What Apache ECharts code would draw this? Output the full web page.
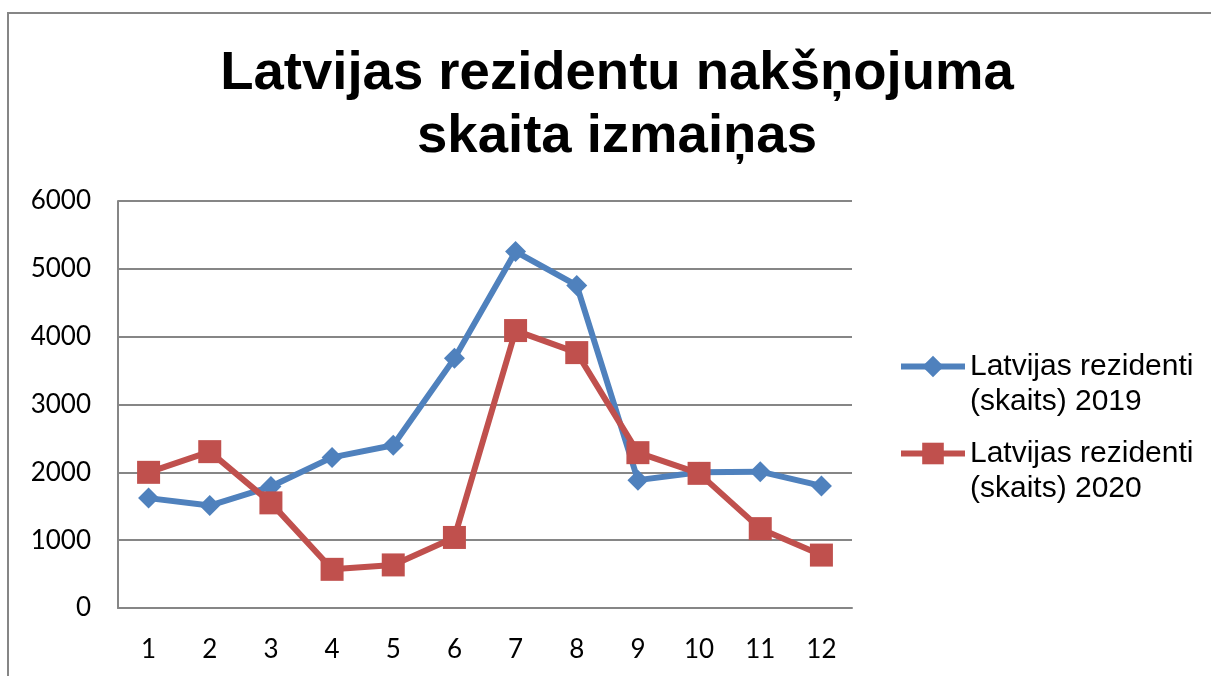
<!DOCTYPE html>
<html>
<head>
<meta charset="utf-8">
<script src="https://cdn.jsdelivr.net/npm/echarts@6/dist/echarts.min.js"></script>
<style>
  html, body { margin: 0; padding: 0; background: #fff; }
  #main { width: 1211px; height: 676px; }
</style>
</head>
<body>
<div id="main"></div>
<script>
// months
const categories = ['1', '2', '3', '4', '5', '6', '7', '8', '9', '10', '11', '12'];
const values2019 = [1620, 1510, 1790, 2220, 2400, 3680, 5255, 4755, 1885, 2000, 2010, 1800];
const values2020 = [2000, 2305, 1550, 570, 635, 1040, 4090, 3765, 2290, 1985, 1170, 780];
const yTicks = [0, 1000, 2000, 3000, 4000, 5000, 6000];

const name2019 = 'Latvijas rezidenti\n(skaits) 2019';
const name2020 = 'Latvijas rezidenti\n(skaits) 2020';

var chartDom = document.getElementById('main');
var myChart = echarts.init(chartDom, null, { renderer: 'canvas' });

// empty first line so the icon sits next to the first text line, like Excel
function legendItem(name, top) {
  return {
    data: [name],
    orient: 'vertical',
    left: 898,
    top: top,
    padding: 0,
    itemWidth: 64,
    itemHeight: 27,
    itemGap: 0,
    selectedMode: false,
    formatter: function (n) { return '\n' + n; },
    lineStyle: { width: 6 },
    textStyle: {
      fontFamily: 'Liberation Sans',
      fontSize: 30,
      color: '#000',
      lineHeight: 35
    }
  };
}

var option = {
  backgroundColor: '#fff',
  animation: false,
  title: {
    text: 'Latvijas rezidentu nakšņojuma\nskaita izmaiņas',
    left: 617,
    top: 42,
    textAlign: 'center',
    padding: 0,
    textStyle: {
      fontFamily: 'Liberation Sans',
      fontWeight: 'bold',
      fontSize: 54.5,
      lineHeight: 63,
      color: '#000'
    }
  },
  graphic: [{
    type: 'rect',
    shape: { x: 8, y: 13, width: 1230, height: 720 },
    style: { fill: 'none', stroke: '#868686', lineWidth: 2 },
    silent: true
  }],
  legend: [legendItem(name2019, 314), legendItem(name2020, 401)],
  grid: {
    left: 118,
    right: 359,
    top: 201,
    bottom: 68
  },
  xAxis: {
    type: 'category',
    boundaryGap: true,
    data: categories,
    axisLine: { show: true, lineStyle: { color: '#868686', width: 2 } },
    axisTick: { show: false },
    axisLabel: {
      margin: 29,
      fontFamily: 'Lato',
      fontSize: 26,
      color: '#000'
    }
  },
  yAxis: {
    type: 'value',
    min: yTicks[0],
    max: yTicks[yTicks.length - 1],
    interval: 1000,
    axisLine: { show: true, lineStyle: { color: '#868686', width: 2 } },
    axisTick: { show: false },
    splitLine: { lineStyle: { color: '#868686', width: 2 } },
    axisLabel: {
      margin: 27,
      fontFamily: 'Lato',
      fontSize: 26,
      color: '#000',
      formatter: function (v) { return String(v); }
    }
  },
  series: [
    {
      name: name2019,
      type: 'line',
      data: values2019,
      symbol: 'diamond',
      symbolSize: 21,
      lineStyle: { color: '#4F81BD', width: 6 },
      itemStyle: { color: '#4F81BD' }
    },
    {
      name: name2020,
      type: 'line',
      data: values2020,
      symbol: 'rect',
      symbolSize: 23,
      lineStyle: { color: '#C0504D', width: 6 },
      itemStyle: { color: '#C0504D' }
    }
  ]
};

option && myChart.setOption(option);
</script>
</body>
</html>
